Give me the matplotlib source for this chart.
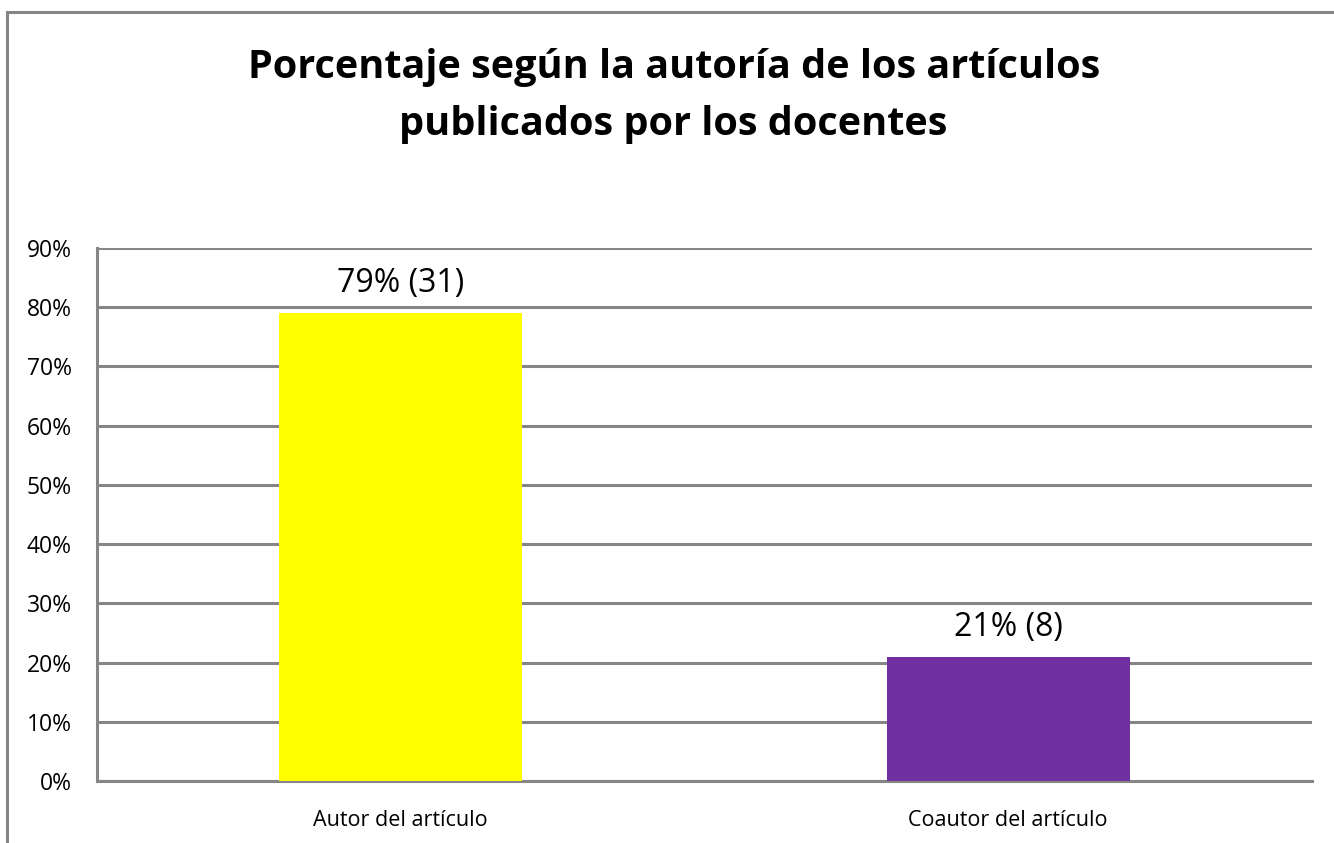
import matplotlib.pyplot as plt
from matplotlib.patches import Rectangle
from matplotlib.ticker import PercentFormatter

categories = ["Autor del artículo", "Coautor del artículo"]
percentages = [79, 21]
counts = [31, 8]
colors = ["#FFFF00", "#7030A0"]
title = "Porcentaje según la autoría de los artículos\npublicados por los docentes"

plt.rcParams["font.family"] = ["Open Sans", "DejaVu Sans"]
grid_color = "#868686"

fig = plt.figure(figsize=(13.34, 8.43), dpi=100)
ax = fig.add_axes([0.0727, 0.0735, 0.9108, 0.6323])

x = range(len(categories))
bars = ax.bar(x, percentages, width=0.4, color=colors, zorder=3)
for b, p, c in zip(bars, percentages, counts):
    ax.text(b.get_x() + b.get_width() / 2, p + 2.2, f"{p}% ({c})",
            ha="center", va="bottom", fontsize=23)

ax.set_xlim(-0.5, 1.5)
ax.set_ylim(0, 90)
ax.set_yticks(range(0, 91, 10))
ax.yaxis.set_major_formatter(PercentFormatter(decimals=0))
ax.set_xticks(list(x))
ax.set_xticklabels(categories, fontsize=15.5)
ax.tick_params(axis="y", labelsize=16.5, length=0, pad=18)
ax.tick_params(axis="x", length=0, pad=21)
ax.grid(axis="y", color=grid_color, linewidth=2.2, zorder=0)
for side in ["top", "right"]:
    ax.spines[side].set_visible(False)
for side in ["left", "bottom"]:
    ax.spines[side].set_color(grid_color)
    ax.spines[side].set_linewidth(2.2)

fig.text(0.505, 0.886, title, ha="center", va="center", fontsize=28.5,
         fontweight="bold", linespacing=1.58)

# chart border
fig.patches.append(Rectangle((7 / 1334, -0.1), 1.2, 1.1 - 12 / 843,
                             transform=fig.transFigure, fill=False,
                             edgecolor=grid_color, linewidth=2.2))

fig.savefig("out.png", dpi=100)
